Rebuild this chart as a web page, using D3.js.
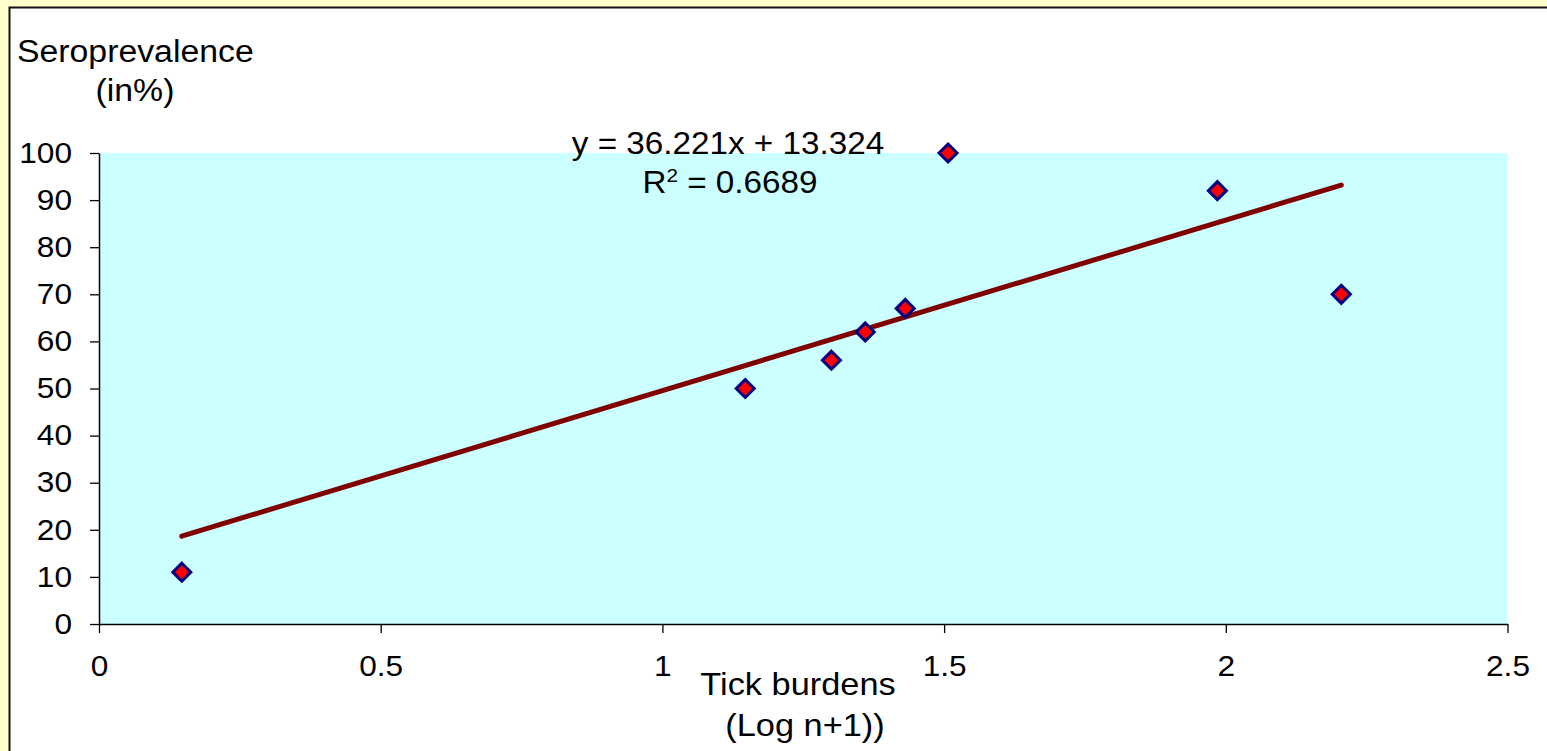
<!DOCTYPE html>
<html>
<head>
<meta charset="utf-8">
<script src="https://cdn.jsdelivr.net/npm/d3@7"></script>
<style>
  body { margin: 0; background: #ffffcc; }
  text { font-family: "Liberation Sans", Arial, sans-serif; fill: #000; }
</style>
</head>
<body>
<div id="chart"></div>
<script>
// data
const tickBurden = [0.147, 1.147, 1.30, 1.36, 1.431, 1.507, 1.985, 2.205];
const seroprevalence = [11, 50, 56, 62, 67, 100, 92, 70];
const xTicks = [0, 0.5, 1, 1.5, 2, 2.5];
const yTicks = [0, 10, 20, 30, 40, 50, 60, 70, 80, 90, 100];
const trendSlope = [36.221];
const trendIntercept = [13.324];
const trendR2 = ['0.6689'];

const width = 1547, height = 751;
const plot = { left: 99, right: 1507.5, top: 153, bottom: 624 };
const stretch = 1.09; // text in the picture is a bit wider than normal

const svg = d3.select('#chart').append('svg')
  .attr('width', width)
  .attr('height', height)
  .style('display', 'block');

// outer yellow frame and white chart area
svg.append('rect').attr('width', width).attr('height', height).attr('fill', '#ffffcc');
svg.append('rect')
  .attr('x', 9.5).attr('y', 7.5)
  .attr('width', width + 20).attr('height', height + 20)
  .attr('fill', '#ffffff')
  .attr('stroke', '#111')
  .attr('stroke-width', 2);

const x = d3.scaleLinear().domain([0, 2.5]).range([plot.left, plot.right]);
const y = d3.scaleLinear().domain([0, 100]).range([plot.bottom, plot.top]);

// plot area
svg.append('rect')
  .attr('x', x(0)).attr('y', y(100))
  .attr('width', x(2.5) - x(0)).attr('height', y(0) - y(100))
  .attr('fill', '#ccffff');

// axes
const yAxis = svg.append('g')
  .attr('transform', 'translate(' + x(0) + ',0)')
  .call(d3.axisLeft(y).tickValues(yTicks).tickSize(9).tickSizeOuter(0).tickPadding(18));

const xAxis = svg.append('g')
  .attr('transform', 'translate(0,' + y(0) + ')')
  .call(d3.axisBottom(x).tickValues(xTicks).tickFormat(d3.format('')).tickSize(9).tickSizeOuter(0).tickPadding(22));

[yAxis, xAxis].forEach(function (g) {
  g.select('.domain').attr('stroke', '#000').attr('stroke-width', 1.5);
  g.selectAll('.tick line').attr('stroke', '#000').attr('stroke-width', 1.3);
  g.selectAll('.tick text')
    .style('font-size', '29px')
    .style('font-family', '"Liberation Sans", Arial, sans-serif')
    .attr('fill', '#000');
});

// linear trend line, drawn over the range of the data
const xr = d3.extent(tickBurden);
const trend = xr.map(function (v) {
  return [v, trendSlope[0] * v + trendIntercept[0]];
});
svg.append('path')
  .datum(trend)
  .attr('d', d3.line().x(function (d) { return x(d[0]); }).y(function (d) { return y(d[1]); }))
  .attr('fill', 'none')
  .attr('stroke', '#800000')
  .attr('stroke-width', 5)
  .attr('stroke-linecap', 'round');

// diamonds
svg.selectAll('.pt')
  .data(tickBurden)
  .enter()
  .append('path')
  .attr('class', 'pt')
  .attr('d', 'M0,-9L9,0L0,9L-9,0Z')
  .attr('transform', function (d, i) {
    return 'translate(' + x(d) + ',' + y(seroprevalence[i]) + ')';
  })
  .attr('fill', '#ff0000')
  .attr('stroke', '#000080')
  .attr('stroke-width', 3);

// titles
svg.append('text').attr('x', 17).attr('y', 62)
  .style('font-size', '31px').text('Seroprevalence');
svg.append('text').attr('x', 135).attr('y', 101).attr('text-anchor', 'middle')
  .style('font-size', '31px').text('(in%)');

svg.append('text').attr('x', 798).attr('y', 695).attr('text-anchor', 'middle')
  .style('font-size', '31.5px').text('Tick burdens');
svg.append('text').attr('x', 805).attr('y', 736).attr('text-anchor', 'middle')
  .style('font-size', '31.5px').text('(Log n+1))');

// regression label
svg.append('text').attr('x', 728).attr('y', 154).attr('text-anchor', 'middle')
  .style('font-size', '30.5px')
  .text('y = ' + trendSlope[0] + 'x + ' + trendIntercept[0]);
const r2 = svg.append('text').attr('x', 730).attr('y', 193).attr('text-anchor', 'middle')
  .style('font-size', '30.5px');
r2.append('tspan').text('R');
r2.append('tspan').attr('dy', -11).style('font-size', '19px').text('2');
r2.append('tspan').attr('dy', 11).text(' = ' + trendR2[0]);

// widen the text a little, like in the picture
svg.selectAll('text').each(function () {
  const w = this.getComputedTextLength();
  this.setAttribute('textLength', w * stretch);
  this.setAttribute('lengthAdjust', 'spacingAndGlyphs');
});
</script>
</body>
</html>
